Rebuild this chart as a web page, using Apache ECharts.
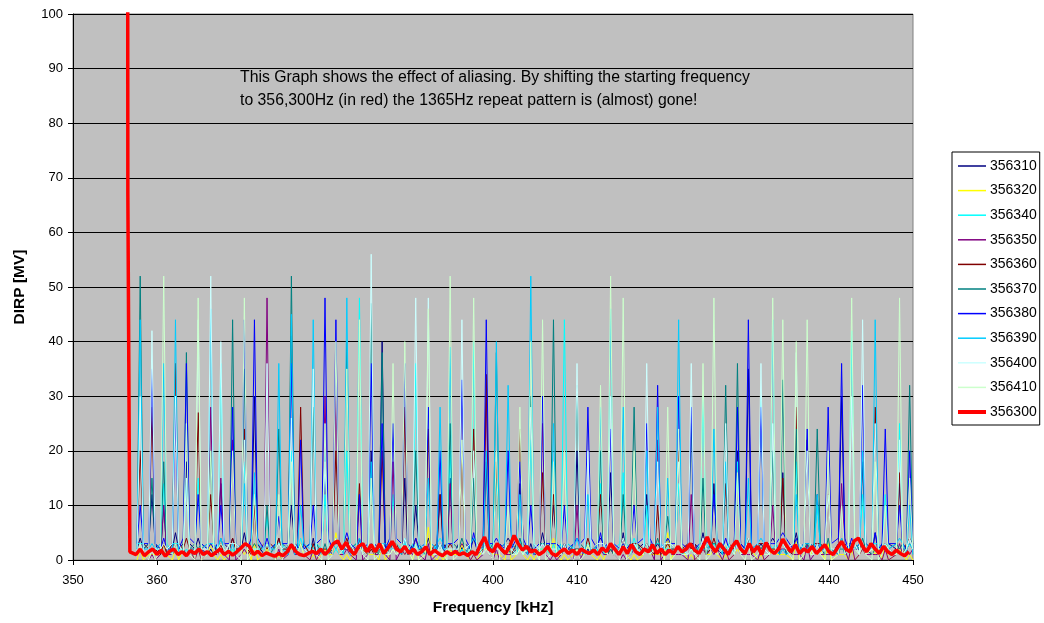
<!DOCTYPE html>
<html><head><meta charset="utf-8">
<script src="https://cdn.jsdelivr.net/npm/echarts@6/dist/echarts.min.js"></script>
<style>html,body{margin:0;padding:0;background:#fff}#c{width:1044px;height:623px}</style>
</head><body><div id="c"></div>
<script>
// Spike (repeat-pattern) locations in kHz
const freqs = [358.0,359.4,360.8,362.2,363.5,364.9,366.4,367.6,369.0,370.4,
371.6,373.1,374.5,376.0,377.1,378.6,380.0,381.3,382.6,384.1,
385.5,386.8,388.1,389.5,390.8,392.3,393.7,394.9,396.3,397.7,
399.2,400.4,401.8,403.2,404.5,405.9,407.2,408.5,410.0,411.3,
412.8,414.0,415.5,416.8,418.3,419.6,420.8,422.1,423.6,425.0,
426.3,427.7,429.1,430.4,431.9,433.3,434.5,436.1,437.4,438.6,
439.9,441.5,442.7,444.0,445.5,446.7,448.4,449.6];

// Peak values at each location, per series
const p356310 = [4,12,10,5,18,4,2,14,4,5, 30,3,4,10,3,4,16,3,2,4, 20,40,3,15,10,4,12,15,2,4, 18,3,4,14,3,5,10,3,20,2, 4,16,5,2,12,3,4,18,3,5, 14,2,20,35,3,4,16,5,3,12, 2,30,3,18,5,2,14,3];
const p356320 = [2,1,3,2,1,2,3,1,2,1, 3,2,1,2,3,1,2,5,1,2, 1,3,2,1,2,6,1,2,3,1, 2,1,3,2,1,2,4,1,2,3, 1,2,3,1,2,1,5,2,1,3, 2,1,2,3,1,2,1,4,2,1, 3,1,2,2,1,3,2,1];
const p356340 = [3,2,14,3,2,15,3,36,2,18, 2,8,3,20,4,2,12,2,20,48, 3,2,12,3,36,2,4,20,2,40, 3,15,2,4,22,2,3,44,2,3, 14,3,16,4,10,3,2,14,2,30, 3,2,18,3,30,2,3,18,2,10, 2,4,42,12,3,12,25,3];
const p356350 = [2,1,10,2,1,2,28,15,22,2, 1,48,2,3,1,2,30,30,2,12, 3,2,18,1,2,3,1,14,3,1, 30,2,1,3,2,25,1,2,10,1, 2,3,1,2,3,22,2,1,12,2, 1,2,3,1,2,10,2,1,3,2, 1,14,3,2,1,2,3,1];
const p356360 = [20,28,3,36,4,27,12,3,4,24, 10,2,4,41,28,3,2,20,4,14, 2,20,3,28,4,24,12,3,20,24, 34,18,3,24,2,16,12,3,2,4, 12,2,4,3,2,10,3,20,2,3, 4,14,3,4,3,2,15,28,22,3, 12,4,3,2,28,3,16,4];
const p356370 = [52,15,18,3,38,2,20,4,44,35, 3,10,24,52,2,28,3,4,40,2, 47,38,3,4,20,2,3,25,4,15, 3,38,2,4,30,3,44,2,32,3, 20,2,12,28,3,4,8,2,25,15, 3,32,36,4,2,20,33,24,3,24, 4,2,3,4,2,3,2,32];
const p356380 = [10,35,4,28,36,12,3,10,28,44, 44,4,8,36,22,10,48,44,5,12, 36,25,25,36,4,28,20,3,33,5, 44,4,20,18,10,30,3,10,4,28, 5,24,3,10,25,32,4,30,28,3, 12,4,28,44,28,3,5,4,24,3, 28,36,4,32,5,24,10,20];
const p356390 = [44,3,36,44,15,2,46,4,3,14, 16,3,36,45,10,44,20,2,48,4, 18,3,2,4,3,15,28,39,2,4, 20,40,32,12,52,3,25,2,4,12, 28,46,28,3,20,28,15,44,3,2, 24,18,3,15,4,44,2,12,3,12, 2,4,3,20,44,3,4,10];
const p356400 = [30,42,3,30,15,44,52,40,3,22, 2,36,3,26,2,35,18,4,2,3, 56,3,2,4,48,48,3,2,44,20, 4,2,3,2,28,3,2,3,36,20, 3,30,4,3,36,18,3,18,36,4, 2,25,3,4,36,25,3,38,20,2, 12,3,30,44,25,3,22,4];
const p356410 = [3,2,52,3,25,48,20,3,20,48, 12,3,12,18,3,2,25,40,35,44, 15,2,36,40,3,46,2,52,22,48, 2,20,10,28,40,44,18,20,2,3, 32,52,48,20,3,2,28,24,2,36, 48,3,16,3,2,48,44,40,44,3, 20,10,48,3,18,10,48,15];

// Valley (floor) values between spikes, per series
const v356310 = [2,3,1,2,3,2,1,3,2,2, 3,1,2,3,2,1,2,3,2,1, 2,3,2,1,3,2,2,1,3,2, 1,2,3,2,1,2,3,2,2,1, 3,2,1,2,3,2,2,1,3,2, 2,1,3,2,2,3,1,2,3,2, 1,3,2,2,1,3,2,2];
const v356320 = [0,1,1,0,2,0,1,0,1,2, 0,1,0,2,1,0,1,1,0,2, 1,0,1,2,0,1,0,1,1,0, 2,1,0,1,0,2,1,0,1,1, 0,2,1,0,1,1,0,2,0,1, 1,0,1,2,0,1,1,0,1,2, 0,1,0,1,2,0,1,0];
const v356340 = [3,2,2,3,1,2,3,2,1,3, 2,2,3,1,2,3,2,1,2,3, 1,2,3,2,2,1,3,2,1,2, 3,2,2,1,3,2,1,3,2,2, 1,2,3,2,1,3,2,2,1,3, 2,3,1,2,2,3,2,1,3,2, 2,1,3,2,3,2,1,2];
const v356350 = [1,0,1,1,2,0,1,1,0,1, 2,1,0,1,1,0,2,1,1,0, 1,1,0,2,1,0,1,1,2,0, 1,0,1,2,1,1,0,1,0,2, 1,1,0,1,2,0,1,1,0,1, 2,0,1,1,0,1,2,1,0,1, 1,2,0,1,1,0,1,2];
const v356360 = [3,2,1,3,2,2,3,1,2,2, 1,3,2,2,3,1,2,3,2,2, 1,2,3,1,2,2,3,2,1,3, 2,2,1,3,2,3,2,1,2,2, 3,1,2,3,2,1,2,2,3,1, 2,3,2,1,3,2,2,1,2,3, 2,1,2,3,2,2,1,3];
const v356370 = [2,3,2,1,2,3,2,2,1,3, 2,1,3,2,2,3,1,2,2,3, 2,1,2,2,3,1,2,3,2,1, 2,3,1,2,2,3,2,1,3,2, 2,1,2,3,1,2,3,2,2,1, 3,2,1,2,3,2,1,2,2,3, 1,2,3,2,1,2,3,2];
const v356380 = [3,3,2,2,4,3,2,3,3,2, 4,2,3,3,2,3,4,2,3,2, 3,2,4,3,2,3,2,3,4,2, 3,3,2,4,2,3,3,2,3,4, 2,3,2,3,4,2,3,3,2,3, 4,2,3,2,3,3,4,2,3,2, 3,4,2,3,2,3,3,2];
const v356390 = [2,2,3,1,2,2,3,2,1,2, 3,2,2,1,3,2,2,3,1,2, 2,3,2,1,2,3,2,2,1,3, 2,2,3,2,1,2,2,3,2,1, 3,2,2,1,2,3,2,1,2,2, 3,1,2,2,3,2,1,2,3,2, 2,1,2,3,2,2,3,1];
const v356400 = [1,2,2,3,1,2,2,1,3,2, 2,1,2,3,2,1,2,2,3,1, 2,2,1,2,3,2,1,2,2,3, 1,2,2,1,3,2,2,1,2,2, 3,1,2,2,1,2,3,2,1,2, 2,3,1,2,2,1,2,3,2,1, 2,2,3,1,2,2,1,2];
const v356410 = [1,0,2,1,1,0,1,2,1,0, 1,1,0,2,1,1,0,1,2,1, 0,1,1,2,0,1,1,0,1,2, 1,0,1,1,2,0,1,1,0,1, 2,1,0,1,1,2,0,1,1,0, 1,2,1,0,1,1,2,0,1,1, 0,1,2,1,0,1,1,2];

// 356300 (red): initial drop, then low-level values sampled every 0.5 kHz from 357.0
const redStartF = [356.50, 356.53, 356.62, 356.65, 356.74, 356.77];
const redStartV = [140, 67, 67, 34, 34, 1.5];
const redGridStart = 357.0, redGridStep = 0.5;
const redV = [1.5,1,2,0.8,1.5,2,1,1.8,0.7,1.6,2,1,1.5,0.8,1.7,1.2,2,
1,1.5,0.8,1.4,2,1,1.6,0.9,1.5,2.2,3,2.5,1,1.6,0.8,1.3,
1,0.7,1.2,0.8,1.5,2.8,1.6,1,0.8,1.2,1.6,1.2,2,1,1.8,3,
3.5,2,3.2,1.8,1,2.5,3,1.5,2.8,1.5,3,1.2,2.2,3.4,2,1.5,
2.5,1.2,2,1,1.5,2.4,1,1.8,1.2,0.8,1.5,1,1.6,1,1.3,0.8,
1.5,1,2.8,4.2,2,1.5,3,2,1.2,2.5,4.5,3,1.8,2.5,1.5,1.8,
1,1.5,2.5,1.2,0.8,1.5,2,1.2,1.8,1,2,1.5,1.2,1.8,1,2.2,
1.5,3,2,1,2.4,1.2,2.8,1.5,1,2,1.5,2.8,1.2,2,1,1.8,
1.2,2.5,1.5,2,3,1.8,1.2,2.5,4.2,2.5,1.5,3,2,1,2.5,3.5,
2,1.2,3,1.5,2.5,1,3.2,1.8,1.2,2,3.8,2.5,1.5,2.8,1.2,2,
1.5,2.5,1.2,2,2.8,1.5,1,2.2,3.4,2,1.5,3.5,4,2.5,1.5,3,
2,1.2,2.5,1.5,1,1.8,1.2,0.8,1.5];

const seriesNames = ['356310','356320','356340','356350','356360','356370','356380','356390','356400','356410','356300'];
const colors = ['#000080','#FFFF00','#00FFFF','#800080','#800000','#008080','#0000FF','#00CCFF','#CCFFFF','#CCFFCC','#FF0000'];
const xTicks = {min:350, max:450, interval:10};
const yTicks = {min:0, max:100, interval:10};

const peaks = [p356310,p356320,p356340,p356350,p356360,p356370,p356380,p356390,p356400,p356410];
const valleys = [v356310,v356320,v356340,v356350,v356360,v356370,v356380,v356390,v356400,v356410];
const HW = 0.38; // spike half width (drawing only)

function build(pk, vl){
  const d = [];
  for (let i = 0; i < freqs.length; i++){
    d.push([freqs[i]-HW, vl[i]], [freqs[i], pk[i]], [freqs[i]+HW, vl[i]]);
  }
  return d;
}
const series = peaks.map((pk, k) => ({
  name: seriesNames[k], type:'line', data: build(pk, valleys[k]),
  symbol:'none', lineStyle:{width:1, color:colors[k]}, itemStyle:{color:colors[k]},
  clip:true, silent:true
}));
const redData = redStartF.map((f,i)=>[f, redStartV[i]]).concat(redV.map((v,i)=>[redGridStart+i*redGridStep, v]));
series.push({name:'356300', type:'line', data:redData, symbol:'none',
  lineStyle:{width:3.5, color:'#FF0000'}, itemStyle:{color:'#FF0000'}, clip:true, silent:true});

const FONT = 'Liberation Sans, Arial, sans-serif';
const legendData = seriesNames.map(n => n === '356300' ? {name:n, lineStyle:{width:4}} : {name:n, lineStyle:{width:1.5}});
const chart = echarts.init(document.getElementById('c'));
chart.setOption({
  animation:false,
  backgroundColor:'#ffffff',
  grid:{left:73, right:131, top:14, bottom:63, show:true, backgroundColor:'#C0C0C0', borderColor:'#808080', borderWidth:1},
  xAxis:{type:'value', min:xTicks.min, max:xTicks.max, interval:xTicks.interval,
    name:'Frequency [kHz]', nameLocation:'middle', nameGap:40,
    nameTextStyle:{fontFamily:FONT, fontSize:15.5, fontWeight:'bold', color:'#000'},
    axisLine:{show:true, onZero:false, lineStyle:{color:'#000', width:1}},
    axisTick:{show:true, inside:false, length:5, lineStyle:{color:'#000'}},
    axisLabel:{fontFamily:FONT, fontSize:13, color:'#000', margin:14},
    splitLine:{show:false}},
  yAxis:{type:'value', min:yTicks.min, max:yTicks.max, interval:yTicks.interval,
    name:'DIRP [MV]', nameLocation:'middle', nameGap:45,
    nameTextStyle:{fontFamily:FONT, fontSize:15.5, fontWeight:'bold', color:'#000'},
    axisLine:{show:true, lineStyle:{color:'#000', width:1}},
    axisTick:{show:true, inside:false, length:5, lineStyle:{color:'#000'}},
    axisLabel:{fontFamily:FONT, fontSize:13, color:'#000', margin:10},
    splitLine:{show:true, lineStyle:{color:'#000', width:1}}},
  legend:{orient:'vertical', left:952, top:152, itemWidth:28, itemHeight:14, itemGap:10.6,
    padding:[7,3,6,4], backgroundColor:'#fff', borderColor:'#000', borderWidth:1, borderRadius:0,
    itemStyle:{color:'rgba(0,0,0,0)', borderWidth:0, opacity:0},
    textStyle:{fontFamily:FONT, fontSize:14, color:'#000', padding:[0,0,0,-1]},
    data:legendData},
  graphic:[
    {type:'text', left:240, top:70, style:{text:'This Graph shows the effect of aliasing. By shifting the starting frequency', font:'15.8px '+FONT, fill:'#000'}},
    {type:'text', left:240, top:93, style:{text:'to 356,300Hz (in red) the 1365Hz repeat pattern is (almost) gone!', font:'15.8px '+FONT, fill:'#000'}}
  ],
  series: series
});
</script></body></html>
